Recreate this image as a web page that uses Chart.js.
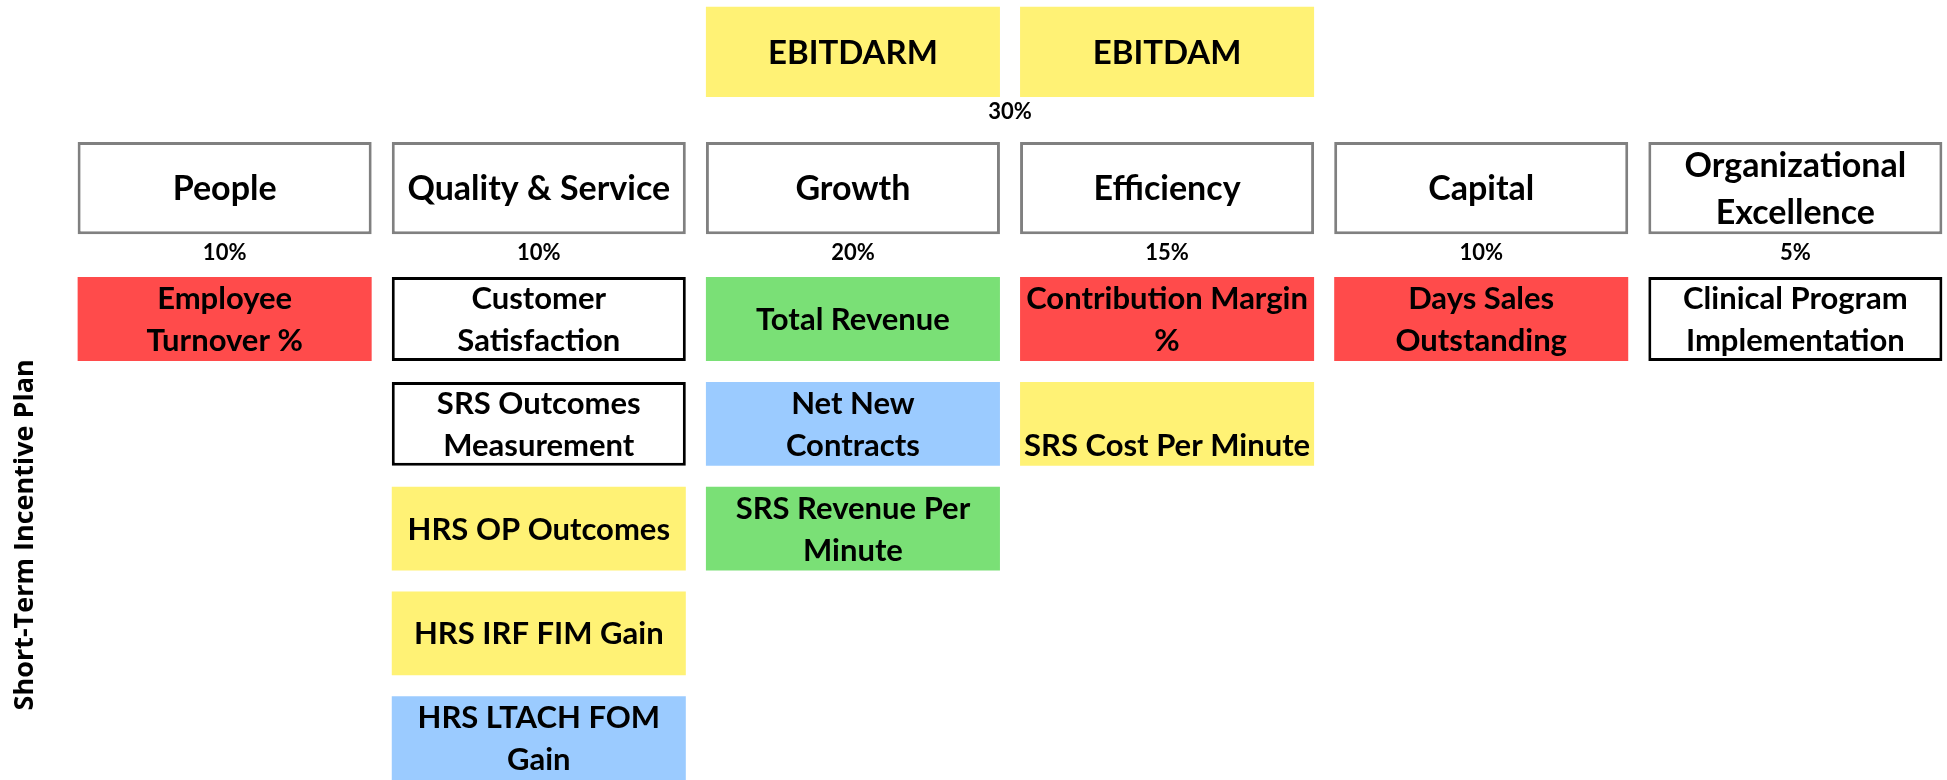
<!DOCTYPE html>
<html>
<head>
<meta charset="utf-8">
<script src="https://cdn.jsdelivr.net/npm/chart.js@4"></script>
<style>
  html, body { margin: 0; padding: 0; background: #fff; }
  #wrap { width: 1947px; height: 780px; }
</style>
</head>
<body>
<div id="wrap"><canvas id="myChart"></canvas></div>
<script>
// pillars across the top of the plan
var categories = ['People', 'Quality & Service', 'Growth', 'Efficiency', 'Capital', 'Organizational\nExcellence'];
var weights = [10, 10, 20, 15, 10, 5];

// shared financial gate above Growth / Efficiency
var topMetrics = ['EBITDARM', 'EBITDAM'];
var topColumns = [2, 3];
var topStatus = ['yellow', 'yellow'];
var topWeight = 30;

// metrics under each pillar (column = pillar index)
var metricNames = [
  'Employee\nTurnover %',
  'Customer\nSatisfaction',
  'SRS Outcomes\nMeasurement',
  'HRS OP Outcomes',
  'HRS IRF FIM Gain',
  'HRS LTACH FOM\nGain',
  'Total Revenue',
  'Net New\nContracts',
  'SRS Revenue Per\nMinute',
  'Contribution Margin\n%',
  '\nSRS Cost Per Minute',
  'Days Sales\nOutstanding',
  'Clinical Program\nImplementation'
];
var metricColumns = [0, 1, 1, 1, 1, 1, 2, 2, 2, 3, 3, 4, 5];
var metricStatus = ['red', 'none', 'none', 'yellow', 'yellow', 'blue', 'green', 'blue', 'green', 'red', 'yellow', 'red', 'none'];

var axisTitle = 'Short-Term Incentive Plan';

var colors = {
  red: 'rgb(255,75,75)',
  yellow: 'rgb(255,242,117)',
  green: 'rgb(122,224,118)',
  blue: 'rgb(155,203,255)',
  none: '#ffffff'
};

// row of each metric inside its column
var seen = {};
var metricRows = metricColumns.map(function (c) {
  seen[c] = (seen[c] || 0) + 1;
  return seen[c] - 1;
});

var boxText = {
  id: 'boxText',
  afterDatasetsDraw(chart) {
    const ctx = chart.ctx;
    const xs = chart.scales.x, ys = chart.scales.y;
    ctx.save();
    ctx.fillStyle = '#000';
    ctx.textAlign = 'center';
    ctx.textBaseline = 'middle';
    chart.data.datasets.forEach(function (ds, di) {
      chart.getDatasetMeta(di).data.forEach(function (bar, i) {
        const lines = ds.texts[i].split('\n');
        const cy = (bar.y + bar.base) / 2 + 1;
        ctx.font = ds.textFont;
        lines.forEach(function (t, k) {
          ctx.fillText(t, bar.x, cy + (k - (lines.length - 1) / 2) * ds.lineHeight);
        });
      });
    });

    ctx.font = 'bold 22px Lato';
    weights.forEach(function (w, i) {
      ctx.fillText(w + '%', xs.getPixelForValue(i), ys.getPixelForValue(2.37));
    });
    ctx.fillText(topWeight + '%', xs.getPixelForValue(2.5), ys.getPixelForValue(1.02));

    // rotated side title
    ctx.translate(33, ys.getPixelForValue(5.06));
    ctx.rotate(-Math.PI / 2);
    ctx.textBaseline = 'alphabetic';
    ctx.font = 'bold 27px "Open Sans"';
    ctx.fillText(axisTitle, 0, 0);
    ctx.restore();
  }
};

var myChart = new Chart('myChart', {
  type: 'bar',
  data: {
    datasets: [
      {
        texts: topMetrics,
        textFont: 'bold 33px Lato',
        lineHeight: 42,
        data: topColumns.map(function (c) { return { x: c, y: [0.02, 0.88] }; }),
        backgroundColor: topStatus.map(function (s) { return colors[s]; }),
        borderWidth: 0
      },
      {
        texts: categories,
        textFont: 'bold 34px Lato',
        lineHeight: 47,
        data: categories.map(function (_, i) { return { x: i, y: [1.31, 2.19] }; }),
        backgroundColor: '#ffffff',
        borderColor: '#808080',
        borderWidth: 3
      },
      {
        texts: metricNames,
        textFont: 'bold 31px Lato',
        lineHeight: 42,
        data: metricNames.map(function (_, i) {
          return { x: metricColumns[i], y: [2.6 + metricRows[i], 3.4 + metricRows[i]] };
        }),
        backgroundColor: metricStatus.map(function (s) { return colors[s]; }),
        borderColor: '#000000',
        borderWidth: metricStatus.map(function (s) { return s === 'none' ? 3 : 0; })
      }
    ]
  },
  options: {
    responsive: true,
    maintainAspectRatio: false,
    animation: false,
    layout: { padding: { left: 77, right: 4, top: 0, bottom: 0 } },
    datasets: {
      bar: { grouped: false, borderSkipped: false, categoryPercentage: 1, barPercentage: 0.936 }
    },
    plugins: {
      legend: { display: false },
      tooltip: { enabled: false }
    },
    scales: {
      x: {
        type: 'linear',
        display: false,
        offset: false,
        min: -0.47,
        max: 5.47,
        ticks: { stepSize: 1, includeBounds: false }
      },
      y: {
        type: 'linear',
        display: false,
        reverse: true,
        min: -0.045,
        max: 7.4
      }
    }
  },
  plugins: [boxText]
});
</script>
</body>
</html>
